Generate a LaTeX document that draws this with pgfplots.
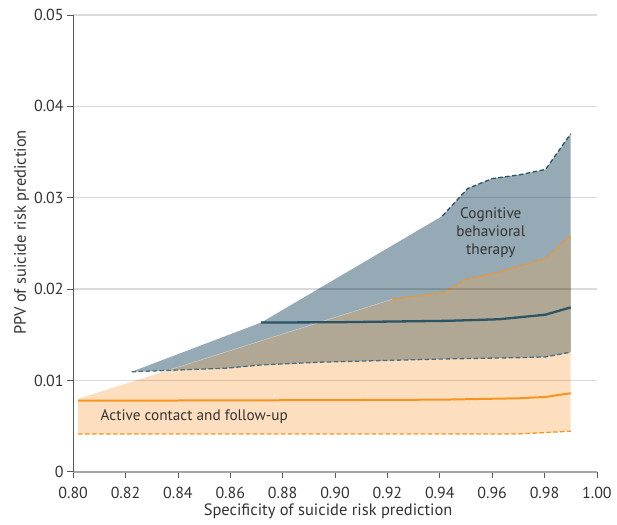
\documentclass[border=0pt]{standalone}
\usepackage{pgfplots}
\pgfplotsset{compat=1.18}
\usepackage{fontspec}
\setmainfont{PT Sans}
\definecolor{bluegrey}{HTML}{95AAB4}
\definecolor{tanov}{HTML}{B0A795}
\definecolor{peach}{HTML}{FDDFC0}
\definecolor{darkteal}{HTML}{2B5566}
\definecolor{orng}{HTML}{F7941D}
\definecolor{txt}{HTML}{333333}
\begin{document}
\fontsize{16}{19}\selectfont
\begin{tikzpicture}
\begin{axis}[
  scale only axis,
  width=524.7pt, height=457.7pt,
  xmin=0.80, xmax=1.00, ymin=0, ymax=0.05,
  xtick={0.80,0.82,...,1.001},
  ytick={0,0.01,0.02,0.03,0.04,0.05},
  scaled x ticks=false, scaled y ticks=false,
  /pgf/number format/assume math mode=true,
  xticklabel style={/pgf/number format/.cd, fixed, fixed zerofill, precision=2, /tikz/.cd, yshift=-3.5pt},
  yticklabel style={/pgf/number format/.cd, fixed, precision=2, /tikz/.cd, xshift=2pt},
  tick label style={text=txt, font=\fontsize{16}{19}\selectfont},
  axis x line*=bottom, axis y line*=left,
  x axis line style={draw=black!35, line width=1.6pt, -},
  y axis line style={draw=black!65, line width=0.8pt, -},
  tick align=outside, major tick length=6pt,
  tick style={draw=black!65, line width=0.8pt},
  ymajorgrids, grid style={draw=black, draw opacity=0.14, line width=1.3pt},
  axis on top,
  clip=false,
  xlabel={Specificity of suicide risk prediction},
  ylabel={PPV of suicide risk prediction},
  label style={font=\fontsize{16.5}{19}\selectfont},
  xlabel style={at={(axis description cs:0.4868,-0.0865)}, anchor=center, text=txt},
  ylabel style={at={(axis description cs:-0.0983,0.524)}, anchor=center, text=txt},
]
% Active contact band (peach)
\addplot[draw=none, fill=peach] coordinates {
 (0.8019,0.0080) (0.9220,0.0189) (0.9410,0.0196) (0.9506,0.0211) (0.9604,0.0217)
 (0.9703,0.0225) (0.9804,0.0233) (0.9900,0.0259)
 (0.9900,0.00445) (0.9804,0.0043) (0.9703,0.00415) (0.8019,0.00415)} -- cycle;
% CBT band (blue grey)
\addplot[draw=none, fill=bluegrey] coordinates {
 (0.8223,0.01095) (0.8718,0.01634) (0.9410,0.0280) (0.9506,0.0310) (0.9601,0.0321)
 (0.9703,0.0325) (0.9804,0.0331) (0.9900,0.0370)
 (0.9900,0.0131) (0.9804,0.01258) (0.9703,0.0125) (0.9410,0.01235) (0.8940,0.0120)
 (0.8718,0.0117) (0.8587,0.01135)} -- cycle;
% overlap (tan)
\addplot[draw=none, fill=tanov] coordinates {
 (0.8361,0.0111) (0.9220,0.0189) (0.9410,0.0196) (0.9506,0.0211) (0.9604,0.0217)
 (0.9703,0.0225) (0.9804,0.0233) (0.9900,0.0259)
 (0.9900,0.0131) (0.9804,0.01258) (0.9703,0.0125) (0.9410,0.01235) (0.8940,0.0120)
 (0.8718,0.0117) (0.8587,0.01135)} -- cycle;
% seam along orange upper edge
\addplot[draw=white, draw opacity=0.45, line width=0.5pt] coordinates {
 (0.8361,0.0111) (0.9220,0.0189)};
% CBT upper dashed
\addplot[draw=darkteal, line width=1.3pt, dash pattern=on 4.5pt off 2.5pt] coordinates {
 (0.9410,0.0280) (0.9506,0.0310) (0.9601,0.0321) (0.9703,0.0325) (0.9804,0.0331) (0.9900,0.0370)};
% CBT lower dashed
\addplot[draw=darkteal!85!white, line width=1.3pt, dash pattern=on 4.5pt off 2.5pt] coordinates {
 (0.8223,0.01095) (0.8587,0.01135) (0.8718,0.0117) (0.8940,0.0120) (0.9410,0.01235)
 (0.9703,0.0125) (0.9804,0.01258) (0.9900,0.0131)};
% Active contact upper dashed
\addplot[draw=orng, line width=1.3pt, dash pattern=on 4.5pt off 2.5pt] coordinates {
 (0.9220,0.0189) (0.9410,0.0196) (0.9506,0.0211) (0.9604,0.0217)
 (0.9703,0.0225) (0.9804,0.0233) (0.9900,0.0259)};
% Active contact lower dashed
\addplot[draw=orng, line width=1.3pt, dash pattern=on 4.5pt off 2.5pt] coordinates {
 (0.8019,0.00415) (0.9703,0.00415) (0.9804,0.0043) (0.9900,0.00445)};
% Active contact mean
\addplot[draw=orng, line width=2pt] coordinates {
 (0.8019,0.00778) (0.9000,0.00785) (0.9410,0.0079) (0.9604,0.0080) (0.9703,0.00805)
 (0.9804,0.0082) (0.9900,0.0086)};
% CBT mean
\addplot[draw=darkteal, line width=2.3pt] coordinates {
 (0.8718,0.01634) (0.9000,0.01637) (0.9436,0.01653) (0.9627,0.0167) (0.9804,0.0172) (0.9900,0.0180)};
\node[text=txt, align=center, inner sep=0pt, font=\fontsize{15.3}{18.3}\selectfont] at (axis cs:0.9595,0.02619) {Cognitive\\behavioral\\therapy};
\node[text=txt, anchor=west, inner sep=0pt, font=\fontsize{15.3}{18.3}\selectfont] at (axis cs:0.81044,0.006085) {Active contact and follow-up};
\end{axis}
\path ([shift={(-73.3pt,-52.3pt)}]current axis.south west) rectangle ([shift={(18.9pt,15pt)}]current axis.north east);
\end{tikzpicture}
\end{document}
